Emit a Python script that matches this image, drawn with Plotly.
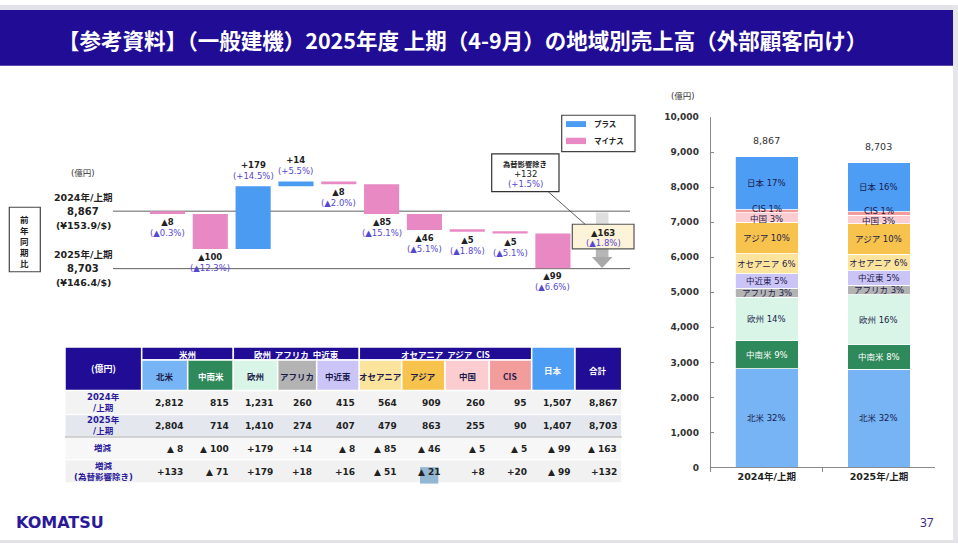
import plotly.graph_objects as go

W, H = 958, 548
def px(x): return x / W
def py(y): return 1 - y / H

FONT = "DejaVu Sans, Noto Sans CJK JP, sans-serif"
JP = "Noto Sans CJK JP, DejaVu Sans, sans-serif"

# ---------------- data ----------------
regions = ["北米", "中南米", "欧州", "アフリカ", "中近東", "オセアニア", "アジア", "中国", "CIS", "日本"]
sales_2024 = [2812, 815, 1231, 260, 415, 564, 909, 260, 95, 1507]
sales_2025 = [2804, 714, 1410, 274, 407, 479, 863, 255, 90, 1407]
total_2024 = 8867
total_2025 = 8703
diff = [-8, -100, 179, 14, -8, -85, -46, -5, -5, -99]
diff_total = -163
diff_fx = [133, -71, 179, 18, 16, -51, -21, 8, 20, -99]
diff_fx_total = 132
diff_pct = ["▲0.3%", "▲12.3%", "+14.5%", "+5.5%", "▲2.0%", "▲15.1%", "▲5.1%", "▲1.8%", "▲5.1%", "▲6.6%"]
diff_total_pct = "▲1.8%"
diff_fx_total_pct = "+1.5%"
fx_2024 = "¥153.9/$"
fx_2025 = "¥146.4/$"
period_labels = ["2024年/上期", "2025年/上期"]
share_2024 = [32, 9, 14, 3, 5, 6, 10, 3, 1, 17]
share_2025 = [32, 8, 16, 3, 5, 6, 10, 3, 1, 16]
y2_ticks = [0, 1000, 2000, 3000, 4000, 5000, 6000, 7000, 8000, 9000, 10000]

# ---------------- styles ----------------
NAVY = "#210c95"
PLUS = "#4c9bf3"
MINUS = "#e889c3"
PURPLE = "#5548d0"
region_colors = ["#76b4f6", "#2f8a5b", "#d9f5e7", "#b3b3b3", "#cbc4f6",
                 "#fde49c", "#f7c34d", "#fbcdd0", "#f29c9c", "#4d9df4"]
region_text = ["#1b1b4b", "#ffffff", "#1b1b4b", "#1b1b4b", "#1b1b4b",
               "#1b1b4b", "#1b1b4b", "#1b1b4b", "#1b1b4b", "#ffffff"]
seg_text = ["#1b1b4b", "#ffffff", "#1b1b4b", "#1b1b4b", "#1b1b4b",
            "#1b1b4b", "#1b1b4b", "#1b1b4b", "#1b1b4b", "#1b1b4b"]
seg_shift = [0, 0, 0, 0, 0, 0, 0, -1, 2, 0]

def fmt_wf(v):
    return f"▲{abs(v)}" if v < 0 else f"+{v}"

def fmt_tb(v):
    return f"▲ {abs(v):,}" if v < 0 else f"+{v:,}"

fig = go.Figure()
shapes = []
anns = []

def ann(x, y, text, size=9, color="#222", xanchor="center", yanchor="middle",
        xref="paper", yref="paper", family=FONT, yshift=0, **kw):
    if xref == "paper":
        x = px(x)
    if yref == "paper":
        y = py(y)
    anns.append(dict(x=x, y=y, xref=xref, yref=yref, text=text, showarrow=False,
                     xanchor=xanchor, yanchor=yanchor, yshift=yshift,
                     font=dict(family=family, size=size, color=color), **kw))

def rect(x0, y0, x1, y1, fill, line=None, lw=0, layer="below"):
    shapes.append(dict(type="rect", xref="paper", yref="paper",
                       x0=px(x0), x1=px(x1), y0=py(y1), y1=py(y0),
                       fillcolor=fill, line=dict(color=line or fill, width=lw), layer=layer))

# ---------------- page frame ----------------
rect(0, 0, 958, 5, "#e2e2e8")
rect(0, 5, 953, 62, NAVY)
rect(953, 0, 958, 548, "#e6e6ea")
rect(0, 545, 958, 548, "#e2e2e8")
ann(462, 35, "<b>【参考資料】（一般建機）2025年度 上期（4-9月）の地域別売上高（外部顧客向け）</b>",
    size=21.5, color="white", family=JP)
ann(14, 527, "<b>KOMATSU</b>", size=16, color="#2b1999", xanchor="left", family="DejaVu Sans")
ann(927, 527, "37", size=12, color="#3a2a8a", family="Noto Sans")

# ---------------- waterfall ----------------
idx = list(range(len(regions)))
fig.add_trace(go.Waterfall(
    x=idx, y=diff, base=total_2024, measure=["relative"] * len(diff),
    width=0.82, textposition="none",
    increasing=dict(marker=dict(color=PLUS)),
    decreasing=dict(marker=dict(color=MINUS)),
    connector=dict(visible=False), showlegend=False, hoverinfo="skip",
    xaxis="x", yaxis="y"))

for lvl in (total_2024, total_2025):
    shapes.append(dict(type="line", xref="x domain", yref="y", x0=0, x1=1, y0=lvl, y1=lvl,
                       line=dict(color="#606060", width=1), layer="below"))

cum = total_2024
for i, d in enumerate(diff):
    prev, cum = cum, cum + d
    txt = f"<b>{fmt_wf(d)}</b><br><span style='color:{PURPLE}'>({diff_pct[i]})</span>"
    if d >= 0:
        ann(i, max(prev, cum), txt, size=8.5, xref="x", yref="y", yanchor="bottom", yshift=3)
    else:
        ann(i, min(prev, cum), txt, size=8.5, xref="x", yref="y", yanchor="top", yshift=-1)

# total arrow (data coords)
tx = len(diff) + 0.15
head_y = total_2025 + 33
bands = ["#dedede", "#d2d2d2", "#c4c4c4", "#b6b6b6"]
span = (total_2024 - 4 - head_y) / len(bands)
for k, c in enumerate(bands):
    shapes.append(dict(type="rect", xref="x", yref="y", x0=tx - 0.147, x1=tx + 0.147,
                       y0=total_2024 - 4 - span * (k + 1), y1=total_2024 - 4 - span * k,
                       fillcolor=c, line=dict(width=0), layer="above"))
shapes.append(dict(type="path", xref="x", yref="y",
                   path=f"M {tx-0.24},{head_y} L {tx+0.24},{head_y} L {tx},{total_2025+2} Z",
                   fillcolor="#a8a8a8", line=dict(width=0), layer="above"))

# total box
rect(572.3, 223.3, 634, 248.5, "#fdf3d8", line="#555555", lw=1.2, layer="above")
ann(603, 232.3, f"<b>{fmt_wf(diff_total)}</b>", size=8.5)
ann(603, 242.3, f"<span style='color:{PURPLE}'>({diff_total_pct})</span>", size=8.5)

# fx callout
shapes.append(dict(type="line", xref="paper", yref="paper", x0=px(548), y0=py(190),
                   x1=px(585), y1=py(223.3), line=dict(color="#333", width=0.8), layer="above"))
rect(491.7, 151.7, 559, 190, "white", line="#333333", lw=1.2, layer="above")
ann(525, 161.7, "<b>為替影響除き</b>", size=7.3, family=JP)
ann(525, 171.7, f"{fmt_wf(diff_fx_total)}", size=8.5)
ann(525, 182.2, f"<span style='color:{PURPLE}'>({diff_fx_total_pct})</span>", size=8.5)

# legend
rect(561.7, 112.3, 635, 149.3, "white", line="#444444", lw=1.2)
rect(566, 118.3, 586, 124.3, PLUS)
rect(566, 135.2, 586, 141.7, MINUS)
ann(591.5, 121, "<b>プラス</b>", size=7.5, xanchor="left", family=JP)
ann(591.5, 138.5, "<b>マイナス</b>", size=7.5, xanchor="left", family=JP)

# left labels
ann(83, 170.7, "(億円)", size=8.5, color="#333")
ann(83, 195.7, "<b>2024年/上期</b>", size=9.5)
ann(83, 210.3, f"<b>{total_2024:,}</b>", size=10)
ann(83, 225, f"<b>({fx_2024})</b>", size=9.5)
ann(83, 254.3, "<b>2025年/上期</b>", size=9.5)
ann(83, 268.7, f"<b>{total_2025:,}</b>", size=10)
ann(83, 283, f"<b>({fx_2025})</b>", size=9.5)
rect(9.3, 206, 40.3, 271.7, "rgba(0,0,0,0)", line="#444444", lw=1.2)
ann(24.8, 240, "<b>" + "<br>".join("前年同期比") + "</b>", size=8.5, family=JP)

# ---------------- table ----------------
col_edges = [65, 141.7, 187.7, 233.3, 277.7, 316.7, 359.3, 401.7, 445, 489.3, 531.7, 575, 621.7]
row_edges = [348.3, 361.7, 392.7, 417.3, 440, 463.3, 486.7]
row_fills = ["#f3f3f3", "#e4e8ee", "#f7f7f7", "#f1f1f1"]
for r in range(4):
    rect(col_edges[0], row_edges[r + 2], col_edges[-1], row_edges[r + 3], row_fills[r],
         line="white", lw=1)
shapes.append(dict(type="line", xref="paper", yref="paper", x0=px(col_edges[0]), x1=px(col_edges[-1]),
                   y0=py(row_edges[4]), y1=py(row_edges[4]), line=dict(color="#a8a8a8", width=1)))

# header
rect(col_edges[0], row_edges[0], col_edges[1], row_edges[2], NAVY, line="white", lw=1.5)
ann((col_edges[0] + col_edges[1]) / 2, (row_edges[0] + row_edges[2]) / 2, "<b>(億円)</b>",
    size=9, color="white", family=JP)
groups = [("米州", 1, 2), ("欧州\u00a0\u00a0アフリカ\u00a0\u00a0中近東", 3, 5),
          ("オセアニア\u00a0\u00a0アジア\u00a0\u00a0CIS", 6, 9)]
for name, c0, c1 in groups:
    rect(col_edges[c0], row_edges[0], col_edges[c1 + 1], row_edges[1], NAVY, line="white", lw=1.5)
    ann((col_edges[c0] + col_edges[c1 + 1]) / 2, (row_edges[0] + row_edges[1]) / 2 + 0.5,
        f"<b>{name}</b>", size=8.5, color="white", family=JP)
for i, name in enumerate(regions):
    c = i + 1
    top = row_edges[0] if name == "日本" else row_edges[1]
    rect(col_edges[c], top, col_edges[c + 1], row_edges[2], region_colors[i], line="white", lw=1.5)
    ann((col_edges[c] + col_edges[c + 1]) / 2, (top + row_edges[2]) / 2 + 1, f"<b>{name}</b>",
        size=8.5, color=region_text[i], family=JP)
rect(col_edges[11], row_edges[0], col_edges[12], row_edges[2], NAVY, line="white", lw=1.5)
ann((col_edges[11] + col_edges[12]) / 2, (row_edges[0] + row_edges[2]) / 2 + 1, "<b>合計</b>",
    size=8.5, color="white", family=JP)

# highlighted cell
rect(420, 470.7, 438.3, 487.5, "#93b6d2")

row_labels = ["2024年<br>/上期", "2025年<br>/上期", "増減", "増減<br>(為替影響除き)"]
rows = [
    [f"{v:,}" for v in sales_2024] + [f"{total_2024:,}"],
    [f"{v:,}" for v in sales_2025] + [f"{total_2025:,}"],
    [fmt_tb(v) for v in diff] + [fmt_tb(diff_total)],
    [fmt_tb(v) for v in diff_fx] + [fmt_tb(diff_fx_total)],
]
for r in range(4):
    yc = (row_edges[r + 2] + row_edges[r + 3]) / 2
    ann((col_edges[0] + col_edges[1]) / 2, yc, f"<b>{row_labels[r]}</b>", size=8.5,
        color="#2b1b9b", family=FONT)
    for c, txt in enumerate(rows[r]):
        ann(col_edges[c + 2] - 2.5, yc + 0.5, f"<b>{txt}</b>", size=9, color="#222",
            xanchor="right")

# ---------------- stacked bar ----------------
for i, name in enumerate(regions):
    fig.add_trace(go.Bar(x=period_labels, y=[sales_2024[i], sales_2025[i]], name=name,
                         marker=dict(color=region_colors[i], line=dict(color="white", width=0.8)),
                         xaxis="x2", yaxis="y2", showlegend=False, hoverinfo="skip"))

for p, vals, shares in ((period_labels[0], sales_2024, share_2024), (period_labels[1], sales_2025, share_2025)):
    base = 0
    for i, v in enumerate(vals):
        ann(p, base + v / 2, f"{regions[i]} {shares[i]}%", size=8.5, color=seg_text[i],
            xref="x2", yref="y2", family=FONT, yshift=seg_shift[i])
        base += v
for p, t in zip(period_labels, (total_2024, total_2025)):
    ann(p, t, f"{t:,}", size=9.5, color="#333", xref="x2", yref="y2", yanchor="bottom", yshift=9)
ann(683, 92.7, "(億円)", size=8.5, color="#333")

fig.update_layout(
    width=W, height=H, margin=dict(l=0, r=0, t=0, b=0),
    paper_bgcolor="white", plot_bgcolor="rgba(0,0,0,0)",
    barmode="stack", bargap=0.442,
    shapes=shapes, annotations=anns, showlegend=False,
    xaxis=dict(domain=[px(113), px(630)], range=[-1.272, 10.8], visible=False, fixedrange=True),
    yaxis=dict(domain=[py(310), py(100)], range=[8586.9, 9175.1], visible=False, fixedrange=True),
    xaxis2=dict(domain=[px(710.7), px(935)], anchor="y2", type="category",
                showline=True, linecolor="#8a8a8a", linewidth=1,
                ticks="outside", tickson="boundaries", ticklen=4, tickcolor="#8a8a8a",
                tickfont=dict(family=FONT, size=9.5, color="#222", weight="bold"),
                showgrid=False, fixedrange=True),
    yaxis2=dict(domain=[py(471), py(114.3)], anchor="x2", range=[0, 10000],
                tickvals=y2_ticks, tickformat=",",
                showline=True, linecolor="#8a8a8a", linewidth=1,
                ticks="inside", ticklen=3, tickcolor="#8a8a8a", ticklabelstandoff=9,
                tickfont=dict(family=FONT, size=9, color="#333", weight="bold"),
                showgrid=False, zeroline=False, fixedrange=True),
)

fig.write_html("out.html", config={"displayModeBar": False},
               post_script="document.body.style.margin='0';document.body.style.overflow='hidden';")
